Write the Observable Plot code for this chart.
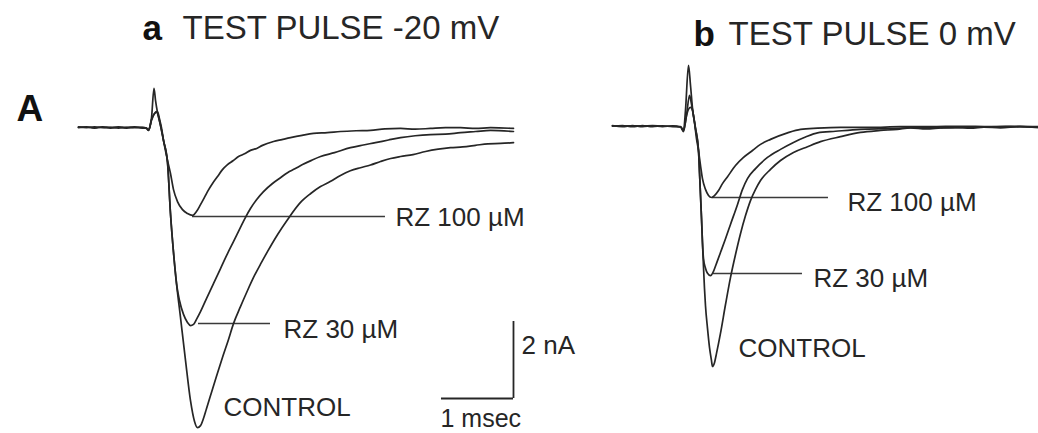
<!DOCTYPE html>
<html><head><meta charset="utf-8">
<script src="https://cdn.jsdelivr.net/npm/d3@7"></script>
<script src="https://cdn.jsdelivr.net/npm/@observablehq/plot@0.6"></script>
<style>
html,body{margin:0;padding:0;background:#fff;}
#fig{position:relative;width:1038px;height:433px;overflow:hidden;background:#fff;}
</style></head><body><div id="fig"></div>
<script>
// ---- data: time (ms, 0 = start of test pulse artefact) and current (nA) ----
const traceLabels = ["CONTROL", "RZ 30 \u00b5M", "RZ 100 \u00b5M"];
const panelTitles = ["TEST PULSE -20 mV", "TEST PULSE 0 mV"];
const panelLetters = ["a", "b"];
const figureLetter = "A";
const scaleBarMs = 1, scaleBarNa = 2;
const scaleBarLabels = ["1 msec", "2 nA"];

const aControl = [[-1.056,-0.03],[-0.944,-0.01],[-0.833,-0.04],[-0.722,-0.01],[-0.611,-0.03],[-0.5,-0.01],[-0.389,-0.04],[-0.278,-0.02],[-0.167,-0.03],[-0.111,-0.05],[-0.083,-0.1],[-0.042,0.21],[-0.007,0.99],[0.014,0.68],[0.042,0.36],[0.083,0.03],[0.125,-0.36],
[0.181,-0.94],[0.222,-2.26],[0.264,-3.27],[0.306,-4.08],[0.361,-4.96],[0.431,-6.08],[0.5,-7.12],[0.556,-7.66],[0.597,-7.82],[0.639,-7.77],[0.681,-7.58],[0.722,-7.33],[0.778,-6.99],[0.861,-6.49],[0.944,-6.0],[1.028,-5.53],[1.097,-5.12],[1.194,-4.68],[1.292,-4.26],[1.389,-3.87],[1.486,-3.53],[1.569,-3.25],[1.708,-2.81],[1.847,-2.42],[2.028,-1.97],[2.17,-1.74],[2.306,-1.56],[2.44,-1.43],[2.583,-1.27],[2.72,-1.15],[2.861,-1.07],[3.0,-1.0],[3.139,-0.91],[3.28,-0.83],[3.417,-0.78],[3.59,-0.73],[3.764,-0.65],[3.94,-0.59],[4.111,-0.55],[4.28,-0.53],[4.458,-0.49],[4.63,-0.45],[4.806,-0.44],[4.986,-0.42]];

const aRz30 = [[-1.056,-0.01],[-0.944,-0.03],[-0.833,-0.01],[-0.722,-0.03],[-0.611,-0.02],[-0.5,-0.04],[-0.389,-0.02],[-0.278,-0.03],[-0.167,-0.02],[-0.111,-0.04],[-0.083,-0.09],[-0.042,0.16],[0.0,0.34],[0.028,0.39],[0.056,0.26],[0.083,0.03],[0.125,-0.36],
[0.181,-0.94],[0.222,-2.26],[0.264,-3.27],[0.306,-4.08],[0.347,-4.52],[0.403,-4.88],[0.458,-5.09],[0.5,-5.17],[0.542,-5.14],[0.583,-5.01],[0.639,-4.81],[0.722,-4.47],[0.819,-4.08],[0.917,-3.69],[1.014,-3.3],[1.097,-2.99],[1.194,-2.62],[1.264,-2.36],[1.333,-2.13],[1.417,-1.9],[1.514,-1.69],[1.639,-1.48],[1.75,-1.33],[1.847,-1.2],[1.95,-1.1],[2.056,-0.99],[2.18,-0.88],[2.306,-0.78],[2.5,-0.68],[2.722,-0.55],[2.9,-0.48],[3.069,-0.42],[3.25,-0.35],[3.417,-0.29],[3.62,-0.24],[3.833,-0.21],[4.04,-0.2],[4.25,-0.16],[4.46,-0.13],[4.667,-0.1],[4.986,-0.13]];

const aRz100 = [[-1.056,-0.02],[-0.944,-0.02],[-0.833,-0.03],[-0.722,-0.02],[-0.611,-0.04],[-0.5,-0.02],[-0.389,-0.03],[-0.278,-0.01],[-0.167,-0.04],[-0.111,-0.04],[-0.083,-0.1],[-0.042,0.18],[0.014,0.36],[0.042,0.38],[0.069,0.2],[0.097,-0.03],[0.125,-0.36],
[0.181,-0.88],[0.222,-1.22],[0.264,-1.64],[0.319,-1.95],[0.389,-2.16],[0.458,-2.26],[0.528,-2.31],[0.583,-2.21],[0.639,-2.03],[0.694,-1.84],[0.736,-1.69],[0.806,-1.48],[0.875,-1.3],[0.944,-1.12],[1.014,-0.99],[1.09,-0.89],[1.167,-0.78],[1.25,-0.71],[1.333,-0.62],[1.42,-0.57],[1.5,-0.49],[1.653,-0.39],[1.77,-0.34],[1.889,-0.29],[2.05,-0.23],[2.208,-0.18],[2.4,-0.16],[2.583,-0.13],[2.8,-0.11],[3.0,-0.1],[3.2,-0.06],[3.417,-0.05],[3.62,-0.07],[3.833,-0.05],[4.04,-0.03],[4.25,-0.03],[4.46,-0.05],[4.667,-0.03],[4.986,-0.05]];

const bControl = [[-1.056,0.0],[-0.917,-0.03],[-0.778,0.0],[-0.639,-0.03],[-0.5,-0.01],[-0.361,-0.03],[-0.222,-0.01],[-0.111,-0.04],[-0.069,-0.13],[-0.042,0.39],[0.0,1.56],[0.028,1.04],[0.056,0.44],[0.097,-0.08],[0.139,-0.65],
[0.153,-1.22],[0.167,-1.82],[0.181,-2.42],[0.194,-3.04],[0.208,-3.66],[0.222,-4.23],[0.236,-4.68],[0.264,-5.27],[0.292,-5.77],[0.319,-6.1],[0.333,-6.26],[0.361,-6.16],[0.389,-5.92],[0.444,-5.4],[0.514,-4.65],[0.583,-3.95],[0.653,-3.35],[0.722,-2.81],[0.792,-2.34],[0.861,-1.95],[0.931,-1.66],[1.0,-1.43],[1.139,-1.14],[1.278,-0.91],[1.458,-0.7],[1.653,-0.55],[1.833,-0.42],[2.111,-0.29],[2.389,-0.18],[2.667,-0.13],[2.9,-0.1],[3.083,-0.06],[3.3,-0.09],[3.5,-0.06],[3.7,-0.04],[3.917,-0.07],[4.1,-0.04],[4.333,-0.06],[4.6,-0.03],[4.861,-0.05]];

const bRz30 = [[-1.056,-0.02],[-0.917,0.0],[-0.778,-0.03],[-0.639,0.0],[-0.5,-0.03],[-0.361,-0.01],[-0.222,-0.03],[-0.111,-0.03],[-0.069,-0.12],[-0.028,0.26],[0.014,0.78],[0.042,0.55],[0.069,0.26],[0.097,-0.06],[0.139,-0.65],
[0.153,-1.22],[0.167,-1.82],[0.181,-2.42],[0.194,-3.04],[0.208,-3.45],[0.236,-3.71],[0.264,-3.84],[0.306,-3.9],[0.347,-3.79],[0.389,-3.58],[0.444,-3.3],[0.514,-2.94],[0.583,-2.57],[0.681,-2.05],[0.75,-1.66],[0.819,-1.38],[0.931,-1.12],[1.097,-0.83],[1.278,-0.62],[1.458,-0.44],[1.625,-0.3],[1.792,-0.19],[2.042,-0.15],[2.389,-0.1],[2.806,-0.08],[3.222,-0.05],[3.639,-0.06],[4.056,-0.04],[4.472,-0.03],[4.861,-0.05]];

const bRz100 = [[-1.056,-0.01],[-0.917,-0.02],[-0.778,-0.01],[-0.639,-0.02],[-0.5,0.0],[-0.361,-0.02],[-0.222,-0.02],[-0.111,-0.04],[-0.069,-0.16],[-0.028,0.26],[0.028,0.47],[0.056,0.39],[0.083,0.08],[0.111,-0.34],[0.139,-0.65],
[0.167,-1.04],[0.194,-1.38],[0.236,-1.66],[0.278,-1.82],[0.319,-1.87],[0.361,-1.82],[0.417,-1.69],[0.472,-1.51],[0.542,-1.33],[0.653,-1.04],[0.764,-0.83],[0.889,-0.65],[1.0,-0.49],[1.139,-0.36],[1.375,-0.19],[1.556,-0.1],[1.792,-0.07],[2.111,-0.05],[2.528,-0.05],[2.944,-0.03],[3.361,-0.03],[3.778,-0.02],[4.194,-0.03],[4.611,-0.02],[4.861,-0.03]];

// ---- drawing ----
const FONT = '"Liberation Sans", Arial, Helvetica, sans-serif';
const INK = "#262626";
const PX_PER_MS = 72, PX_PER_NA = 38.5;

function toRows(series) {
  return series.flatMap((s, i) => s.map(([t, I]) => ({trace: traceLabels[i], t, I})));
}

function drawPanel({series, left, width, spikePx, basePx, title, letter, letterX, titleX, titleY, leaders, labels, extra}) {
  const rows = toRows(series);
  const svg = Plot.plot({
    width, height: 433, margin: 0,
    style: {background: "transparent", overflow: "visible", fontFamily: FONT, color: INK},
    x: {domain: [-1, 5], range: [spikePx - PX_PER_MS, spikePx + 5 * PX_PER_MS], axis: null},
    y: {domain: [0, -8], range: [basePx, basePx + 8 * PX_PER_NA], axis: null},
    marks: [
      Plot.ruleY(leaders, {y: "I", x1: "t1", x2: "t2", stroke: "#3a3a3a", strokeWidth: 1.6}),
      Plot.line(rows, {x: "t", y: "I", z: "trace", stroke: INK, strokeWidth: 1.7, curve: "monotone-x", strokeLinejoin: "round"}),
      Plot.text(labels, {x: "t", y: "I", text: "text", textAnchor: "start", lineAnchor: "middle", fontSize: 26, fill: INK}),
      Plot.text([letter], {text: d => d, frameAnchor: "top-left", dx: letterX, dy: titleY, textAnchor: "start", lineAnchor: "middle", fontSize: 35, fontWeight: "bold", fill: "#111"}),
      Plot.text([title], {text: d => d, frameAnchor: "top-left", dx: titleX, dy: titleY, textAnchor: "start", lineAnchor: "middle", fontSize: 33, fill: INK}),
      ...extra
    ]
  });
  svg.style.position = "absolute";
  svg.style.left = left + "px";
  svg.style.top = "0px";
  document.getElementById("fig").appendChild(svg);
}

// scale bar corner (ms, nA) in panel a
const barT = 4.986, barI = -7.065;

drawPanel({
  series: [aControl, aRz30, aRz100],
  left: 0, width: 560, spikePx: 154, basePx: 126,
  title: panelTitles[0], letter: panelLetters[0], letterX: 142, titleX: 182, titleY: 28,
  leaders: [{t1: 0.528, t2: 3.208, I: -2.338}, {t1: 0.611, t2: 1.611, I: -5.117}],
  labels: [
    {text: traceLabels[2], t: 3.347, I: -2.36},
    {text: traceLabels[1], t: 1.792, I: -5.27},
    {text: traceLabels[0], t: 0.958, I: -7.30}
  ],
  extra: [
    Plot.ruleX([{t: barT, I1: barI + scaleBarNa, I2: barI}], {x: "t", y1: "I1", y2: "I2", stroke: INK, strokeWidth: 1.8}),
    Plot.ruleY([{I: barI, t1: barT - scaleBarMs, t2: barT}], {y: "I", x1: "t1", x2: "t2", stroke: INK, strokeWidth: 1.8}),
    Plot.text([{text: scaleBarLabels[1], t: barT, I: barI + scaleBarNa * 0.69}], {x: "t", y: "I", text: "text", dx: 8, textAnchor: "start", lineAnchor: "middle", fontSize: 26, fill: INK}),
    Plot.text([{text: scaleBarLabels[0], t: barT - scaleBarMs, I: barI - 0.52}], {x: "t", y: "I", text: "text", dx: -1, textAnchor: "start", lineAnchor: "middle", fontSize: 25, fill: INK}),
    Plot.text([figureLetter], {text: d => d, frameAnchor: "top-left", dx: 16, dy: 109, textAnchor: "start", lineAnchor: "middle", fontSize: 37, fontWeight: "bold", fill: "#111"})
  ]
});

drawPanel({
  series: [bControl, bRz30, bRz100],
  left: 560, width: 478, spikePx: 128, basePx: 125,
  title: panelTitles[1], letter: panelLetters[1], letterX: 133, titleX: 168, titleY: 34,
  leaders: [{t1: 0.333, t2: 1.944, I: -1.87}, {t1: 0.347, t2: 1.583, I: -3.844}],
  labels: [
    {text: traceLabels[2], t: 2.208, I: -2.0},
    {text: traceLabels[1], t: 1.736, I: -3.97},
    {text: traceLabels[0], t: 0.694, I: -5.79}
  ],
  extra: []
});
</script></body></html>
